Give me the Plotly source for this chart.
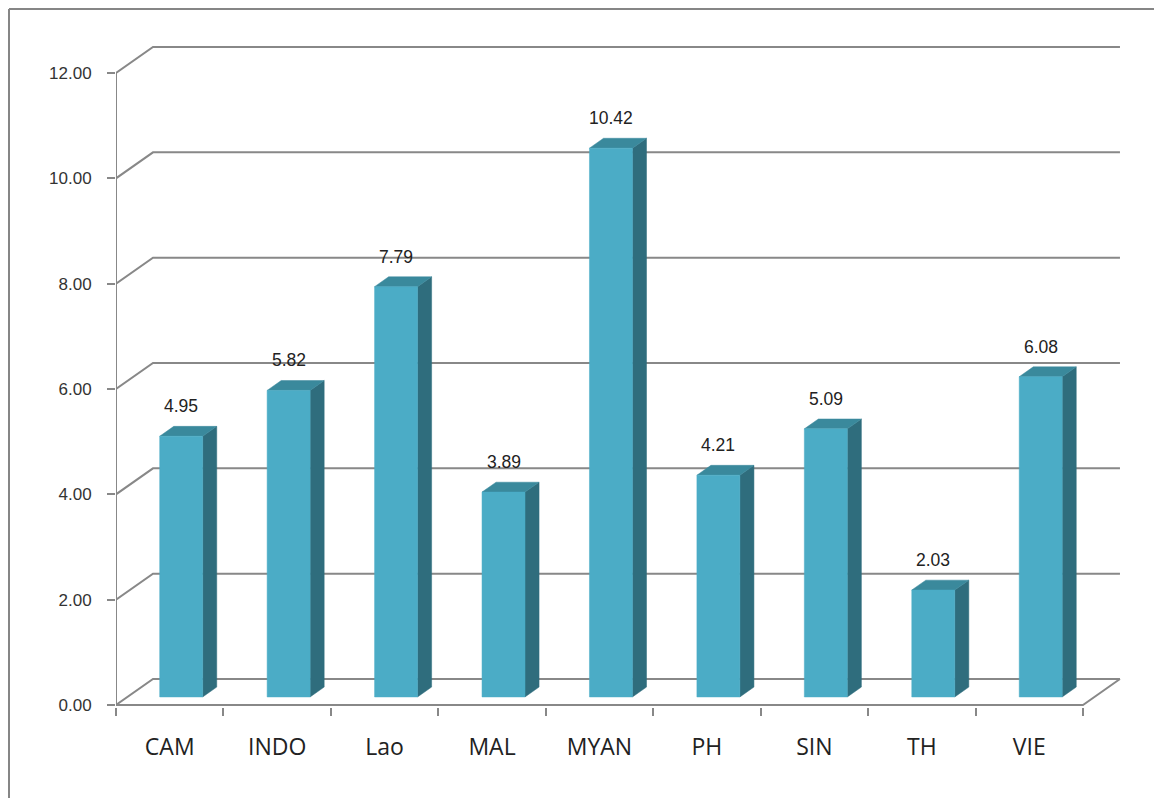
import plotly.graph_objects as go

# ---- data ----
categories = ["CAM", "INDO", "Lao", "MAL", "MYAN", "PH", "SIN", "TH", "VIE"]
values = [4.95, 5.82, 7.79, 3.89, 10.42, 4.21, 5.09, 2.03, 6.08]
y_ticks = [0, 2, 4, 6, 8, 10, 12]

# ---- layout geometry (page pixels; page has an 8px body margin) ----
OFF = 8
W, H = 1162 - OFF, 798 - OFF
PLOT_L, PLOT_R = 116 - OFF, 1150 - OFF
PLOT_T, PLOT_B = 20 - OFF, 707 - OFF
X0_PX, XCAT_PX = 116 - OFF, 107.44
Y0_PX, YUNIT_PX = 705 - OFF, 632 / 12
DEPTH_X = 37 / XCAT_PX
DEPTH_Y = 26 / YUNIT_PX
D0, D1 = 0.31, 0.69
HALF_W = 0.2

x_range = [(PLOT_L - X0_PX) / XCAT_PX, (PLOT_R - X0_PX) / XCAT_PX]
y_range = [(Y0_PX - PLOT_B) / YUNIT_PX, (Y0_PX - PLOT_T) / YUNIT_PX]

GRID = "#888888"
FRONT = "#4BACC6"
SIDE = "#2F6D7D"
TOP = "#3A899C"

fig = go.Figure()
n = len(categories)

# back wall gridlines (with diagonal link to front axis)
gx, gy = [], []
for v in y_ticks:
    gx += [0, DEPTH_X, n + DEPTH_X, None]
    gy += [v, v + DEPTH_Y, v + DEPTH_Y, None]
# y axis line, floor front edge and right side edge
gx += [0, 0, None, 0, n, n + DEPTH_X, None]
gy += [0, max(y_ticks), None, 0, 0, DEPTH_Y, None]
fig.add_trace(go.Scatter(x=gx, y=gy, mode="lines",
                         line=dict(color=GRID, width=2),
                         hoverinfo="skip", showlegend=False))

# bars (front, side, top faces)
for i, v in enumerate(values):
    xl = i + 0.5 - HALF_W
    xr = i + 0.5 + HALF_W
    fx = [xl + D0 * DEPTH_X, xr + D0 * DEPTH_X, xr + D0 * DEPTH_X, xl + D0 * DEPTH_X, xl + D0 * DEPTH_X]
    fy = [D0 * DEPTH_Y, D0 * DEPTH_Y, v + D0 * DEPTH_Y, v + D0 * DEPTH_Y, D0 * DEPTH_Y]
    sx = [xr + D0 * DEPTH_X, xr + D1 * DEPTH_X, xr + D1 * DEPTH_X, xr + D0 * DEPTH_X, xr + D0 * DEPTH_X]
    sy = [D0 * DEPTH_Y, D1 * DEPTH_Y, v + D1 * DEPTH_Y, v + D0 * DEPTH_Y, D0 * DEPTH_Y]
    tx = [xl + D0 * DEPTH_X, xr + D0 * DEPTH_X, xr + D1 * DEPTH_X, xl + D1 * DEPTH_X, xl + D0 * DEPTH_X]
    ty = [v + D0 * DEPTH_Y, v + D0 * DEPTH_Y, v + D1 * DEPTH_Y, v + D1 * DEPTH_Y, v + D0 * DEPTH_Y]
    for px_, py_, col in [(sx, sy, SIDE), (tx, ty, TOP), (fx, fy, FRONT)]:
        fig.add_trace(go.Scatter(x=px_, y=py_, mode="lines", fill="toself",
                                 fillcolor=col, line=dict(color=col, width=0.5),
                                 hoverinfo="skip", showlegend=False))
    fig.add_annotation(x=i + 0.5 + D0 * DEPTH_X, y=v + D0 * DEPTH_Y,
                       text=f"{v:.2f}", showarrow=False, yanchor="middle",
                       yshift=30, xref="x", yref="y",
                       font=dict(family="Liberation Sans, Arial", size=17.5, color="#222222"))

# chart frame (outer border, clipped by window)
pw = PLOT_R - PLOT_L
ph = PLOT_B - PLOT_T
def px_x(p):
    return (p - PLOT_L) / pw
def px_y(p):
    return (PLOT_B - p) / ph
fig.add_shape(type="line", xref="paper", yref="paper",
              x0=px_x(1), y0=px_y(1), x1=px_x(W + 20), y1=px_y(1),
              line=dict(color="#868686", width=2))
fig.add_shape(type="line", xref="paper", yref="paper",
              x0=px_x(1), y0=px_y(1), x1=px_x(1), y1=px_y(H + 20),
              line=dict(color="#868686", width=2))

fig.update_layout(
    width=W, height=H,
    margin=dict(l=PLOT_L, r=W - PLOT_R, t=PLOT_T, b=H - PLOT_B, autoexpand=False),
    paper_bgcolor="white", plot_bgcolor="white",
    showlegend=False,
    xaxis=dict(range=x_range, showgrid=False, zeroline=False, showline=False,
               tickvals=[i + 0.5 for i in range(n)], ticktext=categories,
               ticks="", ticklabelstandoff=24,
               tickfont=dict(family="Open Sans", size=23, color="#222222"),
               minor=dict(ticks="outside", ticklen=8, tickwidth=2, tickcolor=GRID,
                          dtick=1, tick0=0, showgrid=False),
               automargin=False, fixedrange=True),
    yaxis=dict(range=y_range, showgrid=False, zeroline=False, showline=False,
               tickvals=y_ticks, ticktext=[f"{t:.2f}" for t in y_ticks],
               ticks="outside", ticklen=8, tickwidth=2, tickcolor=GRID,
               ticklabelstandoff=12,
               tickfont=dict(family="Liberation Sans, Arial", size=17, color="#333333"),
               automargin=False, fixedrange=True),
)

fig.write_html("out.html")
